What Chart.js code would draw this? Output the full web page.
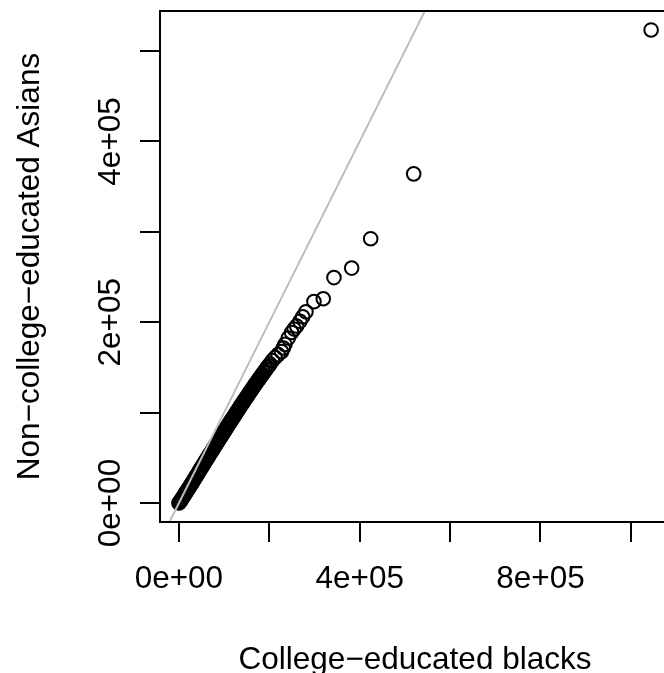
<!DOCTYPE html>
<html lang="en">
<head>
<meta charset="utf-8">
<title>College-educated blacks vs non-college-educated Asians</title>
<script src="https://cdn.jsdelivr.net/npm/chart.js@4.4.1/dist/chart.umd.min.js"></script>
<style>
  html, body { margin: 0; padding: 0; background: #fff; overflow: hidden; }
  #wrap { width: 680px; height: 700px; }
</style>
</head>
<body>
<div id="wrap"><canvas id="qq" width="680" height="700"></canvas></div>
<script>
// sorted quantiles
const blacksCollege = [
  0, 1500, 3200, 5000, 7100, 9300, 11600, 13900, 16200, 18500, 20900, 23300, 25700, 28000,
  30400, 32800, 35200, 37700, 40100, 42500, 44900, 47400, 49800, 52200, 54700, 57100, 59500,
  62000, 64400, 66900, 69300, 71800, 74200, 76700, 79100, 81600, 84000, 86500, 89000, 91400,
  93900, 96400, 98800, 101300, 103800, 106300, 108700, 111200, 113700, 116200, 118700, 121200,
  123700, 126200, 128700, 131200, 133700, 136200, 138800, 141300, 143800, 146300, 148900,
  151400, 154000, 156500, 159100, 161700, 164200, 166800, 169400, 172000, 174600, 177200,
  179800, 182500, 185100, 187800, 190500, 193200, 195900, 198700, 201500,
  207000, 213000, 219500, 227000, 231000, 234600, 242000, 249400, 255000, 260500, 267800,
  274000, 281100, 298800, 319400, 343100, 382300, 424300, 519500, 1044800
];
const asiansNonCollege = [
  0, 900, 2100, 3500, 5000, 6700, 8600, 10300, 12200, 13800, 15800, 17500, 19600, 21300,
  23400, 25200, 27300, 29100, 31300, 33100, 35200, 37100, 39200, 41000, 43100, 44900, 47000,
  48800, 50900, 52700, 54800, 56600, 58700, 60500, 62600, 64400, 66500, 68300, 70400, 72200,
  74300, 76100, 78200, 80000, 82000, 83800, 85900, 87700, 89800, 91600, 93600, 95400,
  97500, 99300, 101300, 103100, 105200, 107000, 109000, 110800, 112800, 114600, 116600,
  118400, 120400, 122200, 124100, 125900, 127900, 129700, 131600, 133400, 135300, 137100,
  139000, 140800, 142700, 144500, 146400, 148200, 150100, 151900, 153800,
  157600, 161000, 164200, 167500, 171500, 175500, 182500, 188700, 192500, 195800, 201000,
  206000, 211500, 222800, 226000, 249400, 259900, 292400, 364100, 523300
];

const xTickValues = [0, 200000, 400000, 600000, 800000, 1000000];
const xTickLabels = ['0e+00', '', '4e+05', '', '8e+05', ''];
const yTickValues = [0, 100000, 200000, 300000, 400000, 500000];
const yTickLabels = ['0e+00', '', '2e+05', '', '4e+05', ''];

// R style axis range: data range plus 4% each side
function padRange(v) {
    const lo = Math.min(...v), hi = Math.max(...v), d = (hi - lo) * 0.04;
    return [lo - d, hi + d];
}
const [xMin, xMax] = padRange(blacksCollege);
const [yMin, yMax] = padRange(asiansNonCollege);
const points = blacksCollege.map((x, i) => ({x: x, y: asiansNonCollege[i]}));
const lineLo = Math.min(xMin, yMin), lineHi = Math.max(xMax, yMax);

const font = {family: "'Liberation Sans', Arial, Helvetica, sans-serif", size: 31.5};

const boxPlugin = {
    id: 'box',
    afterDraw(chart) {
        const {ctx, chartArea: a} = chart;
        ctx.save();
        ctx.strokeStyle = '#000';
        ctx.lineWidth = 2;
        ctx.strokeRect(a.left, a.top, a.right - a.left, a.bottom - a.top);
        ctx.restore();
    }
};

const ctx = document.getElementById('qq').getContext('2d');
new Chart(ctx, {
    type: 'scatter',
    data: {
        datasets: [{
            data: points,
            pointStyle: 'circle',
            pointRadius: 6.8,
            pointBorderWidth: 2,
            pointBorderColor: '#000',
            pointBackgroundColor: 'rgba(0,0,0,0)',
            order: 1
        }, {
            data: [{x: lineLo, y: lineLo}, {x: lineHi, y: lineHi}],
            showLine: true,
            borderColor: '#bebebe',
            borderWidth: 2,
            pointRadius: 0,
            clip: 0,
            order: 0
        }]
    },
    options: {
        responsive: false,
        animation: false,
        devicePixelRatio: 1,
        events: [],
        layout: {padding: {top: 11, right: 10, left: 0, bottom: 0}},
        plugins: {legend: {display: false}, tooltip: {enabled: false}},
        scales: {
            x: {
                type: 'linear',
                min: xMin,
                max: xMax,
                afterFit: s => { s.height = 178; },
                afterBuildTicks: s => { s.ticks = xTickValues.map(v => ({value: v})); },
                grid: {drawOnChartArea: false, drawTicks: true, tickLength: 20, color: '#000', lineWidth: 2},
                border: {display: false},
                ticks: {
                    callback: v => xTickLabels[xTickValues.indexOf(v)],
                    font: font, color: '#000', padding: 18.6,
                    minRotation: 0, maxRotation: 0, autoSkip: false
                },
                title: {display: true, text: 'College−educated blacks', font: font, color: '#000',
                        padding: {top: 0, bottom: 21}}
            },
            y: {
                type: 'linear',
                min: yMin,
                max: yMax,
                afterFit: s => { s.width = 160; },
                afterBuildTicks: s => { s.ticks = yTickValues.map(v => ({value: v})); },
                grid: {drawOnChartArea: false, drawTicks: true, tickLength: 20, color: '#000', lineWidth: 2},
                border: {display: false},
                ticks: {
                    callback: v => yTickLabels[yTickValues.indexOf(v)],
                    font: font, color: '#000', padding: -15.7,
                    minRotation: 90, maxRotation: 90, crossAlign: 'center', autoSkip: false
                },
                title: {display: true, text: 'Non−college−educated Asians', font: font, color: '#000',
                        padding: {top: 11.5, bottom: 0}}
            }
        }
    },
    plugins: [boxPlugin]
});
</script>
</body>
</html>
